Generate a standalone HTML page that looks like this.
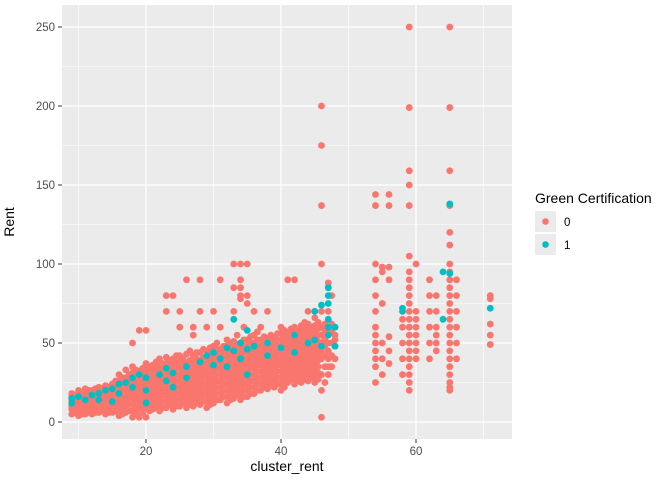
<!DOCTYPE html>
<html><head><meta charset="utf-8"><style>
body{margin:0;background:#fff;}
svg text{font-family:"Liberation Sans",sans-serif;}
</style></head><body>
<svg id="chart" width="672" height="480" xmlns="http://www.w3.org/2000/svg">
<rect x="62" y="5" width="450" height="434" fill="#EBEBEB"/>
<g id="grid"></g><g id="pts"></g><g id="axes"></g>
<text x="14" y="222" font-size="14" text-anchor="middle" transform="rotate(-90 14 222)">Rent</text>
<text x="287" y="471" font-size="14" text-anchor="middle">cluster_rent</text>
<g>
<text x="535" y="203" font-size="14">Green Certification</text>
<rect x="535" y="211" width="21" height="21" fill="#EBEBEB"/>
<circle cx="545.5" cy="221.5" r="3.3" fill="#F8766D"/>
<text x="564" y="226" font-size="11.5">0</text>
<rect x="535" y="234" width="21" height="21" fill="#EBEBEB"/>
<circle cx="545.5" cy="244.5" r="3.3" fill="#00BFC4"/>
<text x="564" y="249" font-size="11.5">1</text>
</g>
</svg>
<script>
const xTicks=[20,40,60];
const yTicks=[0,50,100,150,200,250];
const xMinor=[10,30,50,70];
const yMinor=[25,75,125,175,225];
const redRows=[
[9,5,8,10,12,14,16,18],[10,4,7,9,11,13,15,17,20],[11,5,8,10,12,14,16,19,21],[12,5,7,10,13,15,18,20],
[13,6,9,12,14,17,20,22],[14,5,8,11,14,17,20,23],[15,6,9,12,15,18,21,24],[16,4,8,11,14,18,22,26,30],
[17,6,10,13,16,20,24,28,33],[18,3,7,11,15,19,23,27,31,35,50],[19,3,8,12,16,20,24,28,32,58],
[20,3,9,13,17,21,25,29,33,37,58],[21,8,12,16,20,24,28,32,36],[22,7,11,15,19,23,27,31,35,40],
[23,9,13,17,21,25,29,33,37,41,70,80],[24,8,12,16,20,24,28,32,36,40,80],[25,10,14,18,22,26,30,34,38,42,70,60],
[26,9,13,17,21,25,29,33,37,43,90],[27,10,14,18,22,26,30,34,38,42,60,55],[28,11,15,19,23,27,31,35,39,44,90,70],
[29,9,13,17,21,25,29,33,37,41,45,60],[30,12,16,20,24,28,32,36,40,44,48,70],[31,14,18,22,26,30,34,38,42,46,60,90],
[32,12,16,20,24,28,32,36,40,44,48,52],[33,15,19,23,27,31,35,39,43,47,51,70,85,100],
[34,14,18,22,26,30,34,38,42,46,50,78,80,85,90,100],[35,16,20,24,28,32,36,40,44,48,52,75,80,100],
[36,18,22,26,30,34,38,42,46,50,55,70],[37,20,24,28,32,36,40,44,48,52,60],[38,21,25,29,33,37,41,45,49,53,70],
[39,22,26,30,34,38,42,46,50,54],[40,20,24,28,32,36,40,44,48,52,56,60],[41,25,29,33,37,41,45,49,53,57,90],
[42,24,28,32,36,40,44,48,52,56,60,90],[43,25,29,33,37,41,45,49,53,57,61],[44,26,30,34,38,42,46,50,54,58,62,70],
[45,25,29,33,37,41,45,49,53,57,61,66,70],[46,3,20,30,40,45,50,55,60,70,100,137,175,200],
[47,30,35,40,45,50,55,60,65,70,85,88],[48,40,48,52,55,60],
[9.5,6,9,11,13,15,17],[10.5,5,8,10,12,14,16,18],[11.5,6,9,11,13,15,17,20],[12.5,6,8,11,14,16,19,21],
[13.5,7,10,13,16,19,21],[14.5,6,9,12,16,19,22],[15.5,7,10,13,16,20,23,26],[16.5,5,9,12,16,20,24,28],
[17.5,7,11,15,18,22,26,30],[18.5,5,9,13,17,21,25,29,33],[19.5,6,10,14,18,22,26,30,34],
[20.5,7,11,15,19,23,27,31,35],[21.5,10,14,18,22,26,30,34,38],[22.5,9,13,17,21,25,29,33,37],
[23.5,11,15,19,23,27,31,35,39],[24.5,10,14,18,22,26,30,34,38,42],[25.5,12,16,20,24,28,32,36,40],
[26.5,11,15,19,23,27,31,35,39,45],[27.5,12,16,20,24,28,32,36,40,44],[28.5,13,17,21,25,29,33,37,41,46],
[29.5,11,15,19,23,27,31,35,39,43,47],[30.5,14,18,22,26,30,34,38,42,46,50],[31.5,16,20,24,28,32,36,40,44,48],
[32.5,14,18,22,26,30,34,38,42,46,50],[33.5,17,21,25,29,33,37,41,45,49,55],[34.5,16,20,24,28,32,36,40,44,48,52,60],
[35.5,18,22,26,30,34,38,42,46,50,54],[36.5,20,24,28,32,36,40,44,48,52,57],[37.5,22,26,30,34,38,42,46,50,54],
[38.5,23,27,31,35,39,43,47,51,55],[39.5,24,28,32,36,40,44,48,52,56],[40.5,22,26,30,34,38,42,46,50,54,58],
[41.5,27,31,35,39,43,47,51,55,59],[42.5,26,30,34,38,42,46,50,54,58],[43.5,27,31,35,39,43,47,51,55,59,63],
[44.5,28,32,36,40,44,48,52,56,60],[45.5,27,31,35,39,43,47,51,55,59,63],[46.5,25,35,42,48,52,58,62],
[47.5,35,42,50,57,62,80],
[54,25,35,40,45,50,55,60,70,80,90,100,137,144],[55,30,40,50,75,95,98],[56,37,45,54,90,98,137,144],
[58,30,40,50,60,65],[59,20,25,30,35,40,45,50,55,60,65,70,75,80,85,90,95,105,137,150,159,199,250],
[60,40,45,50,55,60,65,70,100],[62,40,50,60,70,80,90],[63,45,50,55,60,70,80],
[65,20,22,25,30,35,40,45,50,55,60,65,70,75,80,85,90,95,100,112,120,137,159,199,250],
[66,40,50,60,70,80,90],[71,49,55,62,72,78,80]];
const tealRows=[
[9,15,12],[10,16],[11,14],[12,17],[13,18,14],[14,20],[15,21,13],[16,24,18],[17,25],[18,28,22],[19,30],
[20,28,20,12],[22,30],[23,26,34],[24,31,22],[26,35,28],[28,38],[29,42],[30,36,44],[31,40],[32,47,35],
[33,65,45],[34,50,40],[35,58,46,30],[36,48],[38,42,50],[40,47],[42,55,44],[44,50],[45,52,70],[46,48,74],
[47,55,60,65,75,80,85],[48,48,60],[58,70,72],[64,65,95],[65,138,94],[71,72]];
const NS="http://www.w3.org/2000/svg";
const xs=v=>146+(v-20)*6.75;
const ys=v=>422-v*1.58;
const grid=document.getElementById('grid'),pts=document.getElementById('pts'),axes=document.getElementById('axes');
function line(g,x1,y1,x2,y2,w,c){const l=document.createElementNS(NS,'line');l.setAttribute('x1',x1);l.setAttribute('y1',y1);l.setAttribute('x2',x2);l.setAttribute('y2',y2);l.setAttribute('stroke',c);l.setAttribute('stroke-width',w);g.appendChild(l);return l;}
xMinor.forEach(v=>{const l=line(grid,xs(v),5,xs(v),439,0.6,'#fff');

});
yMinor.forEach(v=>{const l=line(grid,62,ys(v),512,ys(v),0.6,'#fff');

});
xTicks.forEach(v=>{const l=line(grid,xs(v),5,xs(v),439,1.2,'#fff');


const t=line(axes,xs(v),439,xs(v),443,1,'#333');


const tx=document.createElementNS(NS,'text');tx.setAttribute('x',xs(v));tx.setAttribute('y',455);tx.setAttribute('font-size','11.5');tx.setAttribute('fill','#4d4d4d');tx.setAttribute('text-anchor','middle');tx.textContent=v;


axes.appendChild(tx);});
yTicks.forEach(v=>{const l=line(grid,62,ys(v),512,ys(v),1.2,'#fff');


const t=line(axes,58,ys(v),62,ys(v),1,'#333');


const tx=document.createElementNS(NS,'text');tx.setAttribute('x',55);tx.setAttribute('y',ys(v)+4);tx.setAttribute('font-size','11.5');tx.setAttribute('fill','#4d4d4d');tx.setAttribute('text-anchor','end');tx.textContent=v;


axes.appendChild(tx);});
function draw(rows,color,name){rows.forEach(r=>{for(let i=1;i<r.length;i++){const c=document.createElementNS(NS,'circle');c.setAttribute('cx',xs(r[0]));c.setAttribute('cy',ys(r[i]));c.setAttribute('r',3.4);c.setAttribute('fill',color);


pts.appendChild(c);}});}
draw(redRows,'#F8766D','point-green-0');
draw(tealRows,'#00BFC4','point-green-1');
</script>
</body></html>
